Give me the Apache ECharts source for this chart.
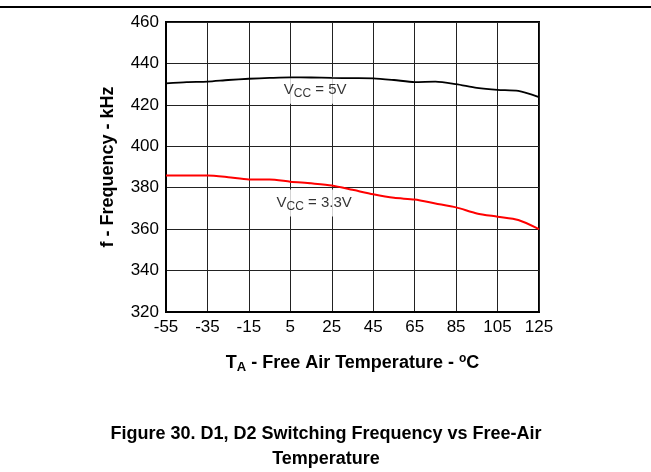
<!DOCTYPE html>
<html>
<head>
<meta charset="utf-8">
<script src="https://cdn.jsdelivr.net/npm/echarts@6/dist/echarts.min.js"></script>
<style>
  html, body { margin: 0; padding: 0; background: #fff; }
  #chart { width: 651px; height: 472px; }
</style>
</head>
<body>
<div id="chart"></div>
<script>
// Free-air temperature, °C
const temps = [-55, -45, -35, -25, -15, -5, 5, 15, 25, 35, 45, 55, 65, 75, 85, 95, 105, 115, 125];
// Switching frequency, kHz
const freq5V = [430.4, 431.0, 431.2, 432.0, 432.6, 433.0, 433.3, 433.2, 433.0, 432.9, 432.8, 432.0, 431.0, 431.2, 430.0, 428.2, 427.2, 426.7, 423.7];
const freq33V = [385.9, 385.9, 385.9, 385.1, 384.0, 384.0, 382.9, 382.1, 381.1, 379.0, 376.8, 375.1, 374.3, 372.4, 370.5, 367.6, 366.0, 364.4, 360.0];
// Curve annotations: [temperature, frequency, rich label]
const curveLabels = [
  [17, 427.0, '{v|V}{s|CC}{v| = 5V}'],
  [16.5, 372.6, '{v|V}{s|CC}{v| = 3.3V}']
];
const xTicks = { min: -55, max: 125, step: 20 };
const yTicks = { min: 320, max: 460, step: 20 };
const captionLines = ['Figure 30. D1, D2 Switching Frequency vs Free-Air', 'Temperature'];

const FONT = '"Liberation Sans", Arial, sans-serif';
const pair = (xs, ys) => xs.map((x, i) => [x, ys[i]]);

const chart = echarts.init(document.getElementById('chart'));
chart.setOption({
  animation: false,
  backgroundColor: '#fff',
  graphic: [
    {
      type: 'line',
      shape: { x1: 0, y1: 7, x2: 651, y2: 7 },
      style: { stroke: '#000', lineWidth: 2 }
    },
    {
      type: 'text',
      x: 326, y: 422,
      style: {
        text: captionLines.join('\n'),
        align: 'center',
        verticalAlign: 'top',
        font: 'bold 18px ' + FONT,
        lineHeight: 25,
        fill: '#000'
      }
    }
  ],
  grid: {
    left: 166, right: 112, top: 22, bottom: 160,
    show: true, borderColor: '#000', borderWidth: 2, backgroundColor: 'transparent'
  },
  xAxis: {
    type: 'value',
    min: xTicks.min, max: xTicks.max, interval: xTicks.step,
    name: '{b|T}{sub|A}{b| - Free Air Temperature - }{sup|o}{b|C}',
    nameLocation: 'middle',
    nameGap: 40,
    nameTextStyle: {
      rich: {
        b: { fontFamily: FONT, fontWeight: 'bold', fontSize: 18, color: '#000' },
        sub: { fontFamily: FONT, fontWeight: 'bold', fontSize: 13, color: '#000', padding: [9, 0, 0, 0] },
        sup: { fontFamily: FONT, fontWeight: 'bold', fontSize: 12, color: '#000', padding: [0, 0, 9, 0] }
      }
    },
    axisLine: { show: true, onZero: false, lineStyle: { color: '#000', width: 2 } },
    axisTick: { show: false },
    axisLabel: { fontFamily: FONT, fontSize: 17, color: '#000', margin: 7 },
    splitLine: { show: true, lineStyle: { color: '#222', width: 1 } }
  },
  yAxis: {
    type: 'value',
    min: yTicks.min, max: yTicks.max, interval: yTicks.step,
    name: 'f - Frequency - kHz',
    nameLocation: 'middle',
    nameGap: 49,
    nameTextStyle: { fontFamily: FONT, fontWeight: 'bold', fontSize: 18, color: '#000' },
    axisLine: { show: true, onZero: false, lineStyle: { color: '#000', width: 2 } },
    axisTick: { show: false },
    axisLabel: { fontFamily: FONT, fontSize: 17, color: '#000', margin: 7 },
    splitLine: { show: true, lineStyle: { color: '#222', width: 1 } }
  },
  series: [
    {
      name: 'labels',
      type: 'scatter',
      symbolSize: 0,
      silent: true,
      z: 2,
      data: curveLabels.map(d => ({ value: [d[0], d[1]], text: d[2] })),
      label: {
        show: true,
        position: 'inside',
        formatter: p => p.data.text,
        backgroundColor: '#fff',
        padding: [4, 6, 4, 6],
        rich: {
          v: { fontFamily: FONT, fontSize: 15, color: '#000' },
          s: { fontFamily: FONT, fontSize: 12, color: '#000', padding: [7, 0, 0, 0] }
        }
      }
    },
    {
      name: 'VCC = 5V',
      type: 'line',
      data: pair(temps, freq5V),
      smooth: 0.25,
      showSymbol: false,
      lineStyle: { color: '#000', width: 1.8 },
      z: 5
    },
    {
      name: 'VCC = 3.3V',
      type: 'line',
      data: pair(temps, freq33V),
      smooth: 0.25,
      showSymbol: false,
      lineStyle: { color: '#ff0000', width: 2 },
      z: 5
    }
  ]
});
</script>
</body>
</html>
